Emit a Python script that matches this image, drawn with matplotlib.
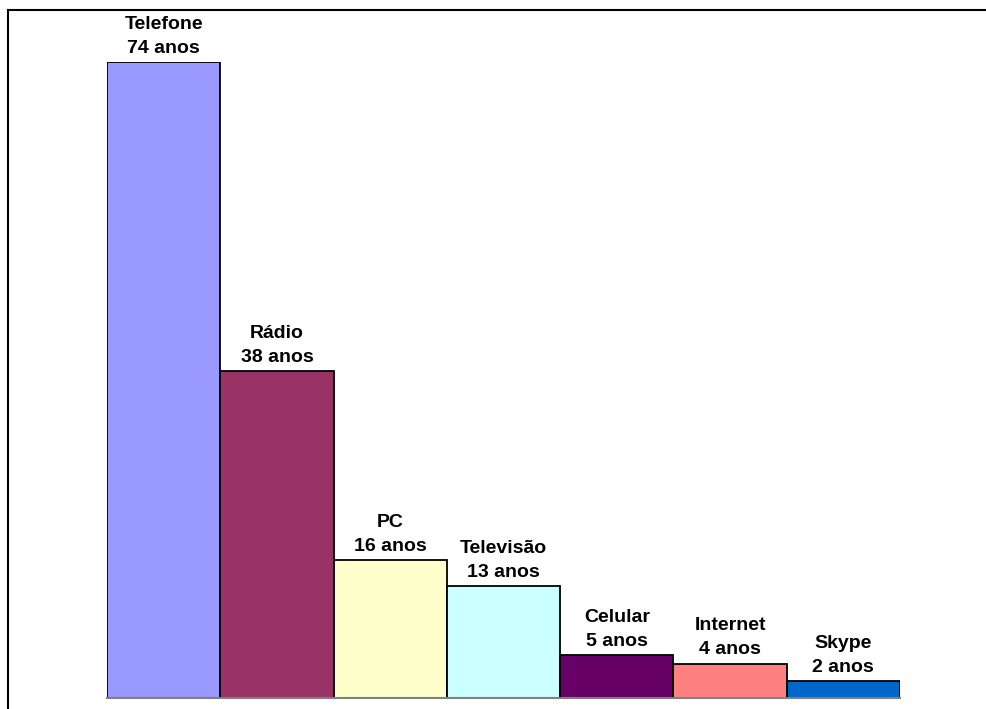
import matplotlib.pyplot as plt
from matplotlib.patches import Rectangle

plt.rcParams["font.family"] = ["Liberation Sans", "DejaVu Sans"]

nomes = ["Telefone", "Rádio", "PC", "Televisão", "Celular", "Internet", "Skype"]
anos = [74, 38, 16, 13, 5, 4, 2]
cores = ["#9999FF", "#993366", "#FFFFCC", "#CCFFFF", "#660066", "#FF8080", "#0066CC"]

W, H = 986, 709
fig = plt.figure(figsize=(W / 100, H / 100), dpi=100)

# axes placed in pixel terms: bars span x 107..900, y 698 (0) .. 62 (74)
ax = fig.add_axes([107 / W, 1 - 698 / H, (900 - 107) / W, (698 - 62) / H])

x = range(len(anos))
ax.bar(x, anos, width=1.0, color=cores, edgecolor="black", linewidth=1.3)

for i, (n, v) in enumerate(zip(nomes, anos)):
    ax.annotate(f"{n}\n{v} anos", (i, v), xytext=(0, 3.7), textcoords="offset points",
                ha="center", va="bottom", fontsize=14, fontweight="bold",
                linespacing=1.55, annotation_clip=False)

ax.set_xlim(-0.5, len(anos) - 0.5)
ax.set_ylim(0, 74)
for s in ["top", "right", "left"]:
    ax.spines[s].set_visible(False)
ax.spines["bottom"].set_color("#808080")
ax.spines["bottom"].set_linewidth(1.5)
ax.set_xticks([])
ax.set_yticks([])

# outer frame (right and bottom edges fall outside the picture)
fig.patches.append(Rectangle((8 / W, -0.1), 1.2, 1 - 9.5 / H + 0.1,
                             transform=fig.transFigure, fill=False,
                             edgecolor="black", linewidth=1.5))

fig.savefig("out.png", dpi=100)
